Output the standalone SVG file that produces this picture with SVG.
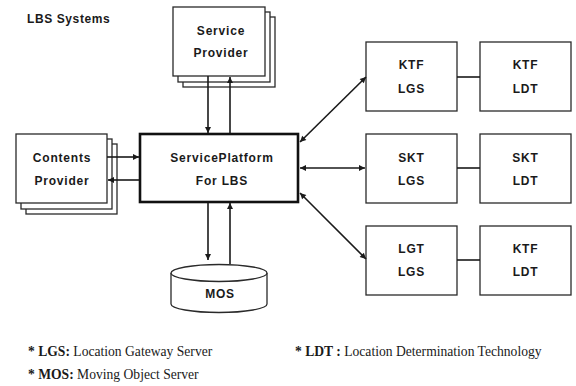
<svg xmlns="http://www.w3.org/2000/svg" width="576" height="386" viewBox="0 0 576 386">
<defs>
<marker id="ah" viewBox="0 0 10 10" refX="10" refY="5" markerWidth="7" markerHeight="6" markerUnits="userSpaceOnUse" orient="auto-start-reverse">
<path d="M0,0 L10,5 L0,10 z" fill="#1a1a1a"/>
</marker>
</defs>
<style>
.box{fill:#fff;stroke:#2a2a2a;stroke-width:1.3}
.main{fill:#fff;stroke:#111;stroke-width:2.6}
.lbl{font-family:"Liberation Sans",Arial,sans-serif;font-weight:bold;font-size:12px;letter-spacing:0.8px;fill:#1a1a1a;text-anchor:middle}
.con{stroke:#1a1a1a;stroke-width:1.6;fill:none}
.leg{font-family:"Liberation Serif","Times New Roman",serif;font-size:13.6px;fill:#1a1a1a}
</style>
<rect width="576" height="386" fill="#fff"/>
<text x="27" y="23" style="font-family:'Liberation Sans',Arial,sans-serif;font-weight:bold;font-size:12px;letter-spacing:0.6px;fill:#1a1a1a">LBS Systems</text>

<g id="service-provider">
<rect class="box" x="183" y="17" width="92" height="70"/>
<rect class="box" x="178" y="12" width="92" height="70"/>
<rect class="box" x="173" y="7" width="92" height="69"/>
<text class="lbl" x="221" y="35">Service</text>
<text class="lbl" x="221" y="57">Provider</text>
</g>

<g id="contents-provider">
<rect class="box" x="26" y="144" width="91" height="70"/>
<rect class="box" x="21" y="139" width="91" height="70"/>
<rect class="box" x="16" y="134" width="91" height="69"/>
<text class="lbl" x="62" y="162">Contents</text>
<text class="lbl" x="62" y="185">Provider</text>
</g>

<g id="service-platform">
<rect class="main" x="140" y="134" width="158" height="68"/>
<text class="lbl" x="222" y="162">ServicePlatform</text>
<text class="lbl" x="222" y="185">For LBS</text>
</g>

<g id="mos">
<path class="box" d="M171,273 L171,304 A48,8.5 0 0 0 267,304 L267,273"/>
<ellipse class="box" cx="219" cy="273" rx="48" ry="8.5"/>
<text class="lbl" x="220" y="298">MOS</text>
</g>

<g id="ktf-lgs">
<rect class="box" x="366" y="42" width="91" height="69"/>
<text class="lbl" x="411.5" y="69">KTF</text>
<text class="lbl" x="411.5" y="93">LGS</text>
</g>
<g id="ktf-ldt">
<rect class="box" x="480" y="42" width="91" height="69"/>
<text class="lbl" x="525.5" y="69">KTF</text>
<text class="lbl" x="525.5" y="93">LDT</text>
</g>
<g id="skt-lgs">
<rect class="box" x="366" y="134" width="91" height="69"/>
<text class="lbl" x="411.5" y="162">SKT</text>
<text class="lbl" x="411.5" y="185">LGS</text>
</g>
<g id="skt-ldt">
<rect class="box" x="480" y="134" width="91" height="69"/>
<text class="lbl" x="525.5" y="162">SKT</text>
<text class="lbl" x="525.5" y="185">LDT</text>
</g>
<g id="lgt-lgs">
<rect class="box" x="366" y="226" width="91" height="69"/>
<text class="lbl" x="411.5" y="253">LGT</text>
<text class="lbl" x="411.5" y="276">LGS</text>
</g>
<g id="ktf-ldt-2">
<rect class="box" x="480" y="226" width="91" height="69"/>
<text class="lbl" x="525.5" y="253">KTF</text>
<text class="lbl" x="525.5" y="276">LDT</text>
</g>

<g id="connectors">
<line class="con" x1="208" y1="76" x2="208" y2="133" marker-end="url(#ah)"/>
<line class="con" x1="230" y1="133" x2="230" y2="77" marker-end="url(#ah)"/>
<line class="con" x1="107" y1="157" x2="139" y2="157" marker-end="url(#ah)"/>
<line class="con" x1="139" y1="180" x2="108" y2="180" marker-end="url(#ah)"/>
<line class="con" x1="208" y1="203" x2="208" y2="260" marker-end="url(#ah)"/>
<line class="con" x1="230" y1="264" x2="230" y2="203" marker-end="url(#ah)"/>
<line class="con" x1="300" y1="142" x2="366" y2="77" marker-start="url(#ah)" marker-end="url(#ah)"/>
<line class="con" x1="300" y1="168" x2="365" y2="168" marker-start="url(#ah)" marker-end="url(#ah)"/>
<line class="con" x1="300" y1="193" x2="366" y2="259" marker-start="url(#ah)" marker-end="url(#ah)"/>
<line class="con" x1="457" y1="77" x2="480" y2="77"/>
<line class="con" x1="457" y1="168" x2="480" y2="168"/>
<line class="con" x1="457" y1="260" x2="480" y2="260"/>
</g>

<text class="leg" x="28" y="356"><tspan font-weight="bold">* LGS:</tspan> Location Gateway Server</text>
<text class="leg" x="28" y="379"><tspan font-weight="bold">* MOS:</tspan> Moving Object Server</text>
<text class="leg" x="295" y="356"><tspan font-weight="bold">* LDT :</tspan> Location Determination Technology</text>
</svg>
